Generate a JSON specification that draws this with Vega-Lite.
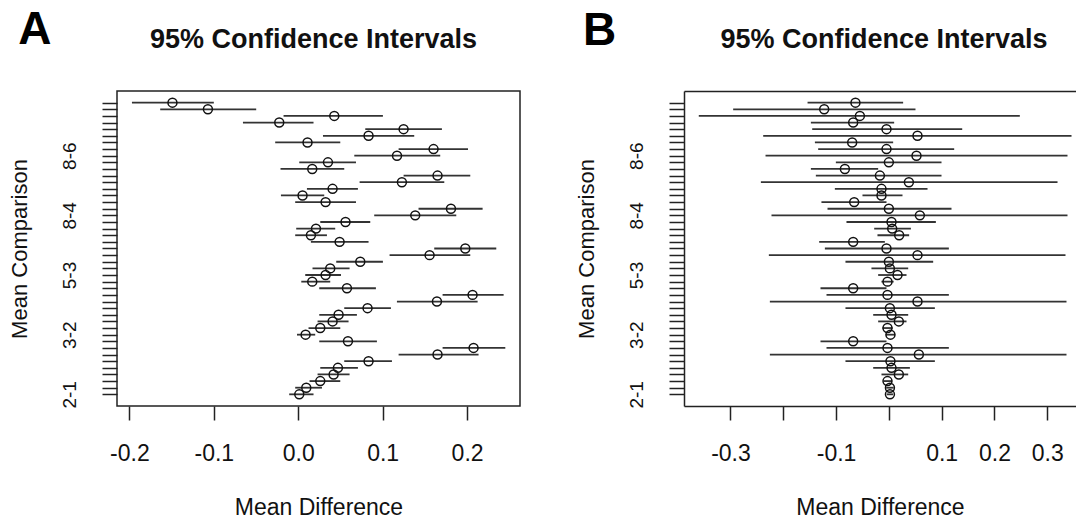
{
  "$schema": "https://vega.github.io/schema/vega-lite/v6.json",
  "padding": {"left": 7, "top": 7, "right": 0, "bottom": 0},
  "background": "white",
  "datasets": {
    "a": [
      {"k": 1, "cmp": "2-1", "lwr": -0.0107, "mid": 0.0012, "upr": 0.0181},
      {"k": 2, "cmp": "3-1", "lwr": -0.0036, "mid": 0.0095, "upr": 0.0281},
      {"k": 3, "cmp": "4-1", "lwr": 0.0134, "mid": 0.0261, "upr": 0.0498},
      {"k": 4, "cmp": "5-1", "lwr": 0.0229, "mid": 0.0419, "upr": 0.0608},
      {"k": 5, "cmp": "6-1", "lwr": 0.0261, "mid": 0.047, "upr": 0.0707},
      {"k": 6, "cmp": "7-1", "lwr": 0.0545, "mid": 0.0833, "upr": 0.111},
      {"k": 7, "cmp": "8-1", "lwr": 0.1189, "mid": 0.165, "upr": 0.2136},
      {"k": 8, "cmp": "9-1", "lwr": 0.171, "mid": 0.2077, "upr": 0.2453},
      {"k": 9, "cmp": "10-1", "lwr": 0.0249, "mid": 0.0589, "upr": 0.0932},
      {"k": 10, "cmp": "3-2", "lwr": -0.0015, "mid": 0.0087, "upr": 0.0201},
      {"k": 11, "cmp": "4-2", "lwr": 0.0122, "mid": 0.0261, "upr": 0.0498},
      {"k": 12, "cmp": "5-2", "lwr": 0.0229, "mid": 0.0407, "upr": 0.0596},
      {"k": 13, "cmp": "6-2", "lwr": 0.0249, "mid": 0.0478, "upr": 0.0695},
      {"k": 14, "cmp": "7-2", "lwr": 0.0545, "mid": 0.0821, "upr": 0.1098},
      {"k": 15, "cmp": "8-2", "lwr": 0.1169, "mid": 0.1643, "upr": 0.2125},
      {"k": 16, "cmp": "9-2", "lwr": 0.171, "mid": 0.2065, "upr": 0.2433},
      {"k": 17, "cmp": "10-2", "lwr": 0.0249, "mid": 0.0577, "upr": 0.092},
      {"k": 18, "cmp": "4-3", "lwr": 0.0036, "mid": 0.0166, "upr": 0.0379},
      {"k": 19, "cmp": "5-3", "lwr": 0.0083, "mid": 0.0324, "upr": 0.0506},
      {"k": 20, "cmp": "6-3", "lwr": 0.0169, "mid": 0.0379, "upr": 0.0608},
      {"k": 21, "cmp": "7-3", "lwr": 0.045, "mid": 0.0735, "upr": 0.1003},
      {"k": 22, "cmp": "8-3", "lwr": 0.1082, "mid": 0.1556, "upr": 0.2038},
      {"k": 23, "cmp": "9-3", "lwr": 0.1611, "mid": 0.1979, "upr": 0.2346},
      {"k": 24, "cmp": "10-3", "lwr": 0.015, "mid": 0.049, "upr": 0.0833},
      {"k": 25, "cmp": "5-4", "lwr": -0.0036, "mid": 0.015, "upr": 0.034},
      {"k": 26, "cmp": "6-4", "lwr": -0.0024, "mid": 0.021, "upr": 0.0438},
      {"k": 27, "cmp": "7-4", "lwr": 0.0261, "mid": 0.056, "upr": 0.0853},
      {"k": 28, "cmp": "8-4", "lwr": 0.09, "mid": 0.1386, "upr": 0.1872},
      {"k": 29, "cmp": "9-4", "lwr": 0.1425, "mid": 0.1809, "upr": 0.2184},
      {"k": 30, "cmp": "10-4", "lwr": -0.0036, "mid": 0.0324, "upr": 0.0684},
      {"k": 31, "cmp": "6-5", "lwr": -0.0205, "mid": 0.0051, "upr": 0.0308},
      {"k": 32, "cmp": "7-5", "lwr": 0.0103, "mid": 0.0407, "upr": 0.0707},
      {"k": 33, "cmp": "8-5", "lwr": 0.0727, "mid": 0.1228, "upr": 0.173},
      {"k": 34, "cmp": "9-5", "lwr": 0.1248, "mid": 0.165, "upr": 0.2038},
      {"k": 35, "cmp": "10-5", "lwr": -0.021, "mid": 0.0166, "upr": 0.0545},
      {"k": 36, "cmp": "7-6", "lwr": 0.0012, "mid": 0.0352, "upr": 0.0684},
      {"k": 37, "cmp": "8-6", "lwr": 0.0664, "mid": 0.117, "upr": 0.1682},
      {"k": 38, "cmp": "9-6", "lwr": 0.1189, "mid": 0.1603, "upr": 0.2011},
      {"k": 39, "cmp": "10-6", "lwr": -0.0273, "mid": 0.011, "upr": 0.0498},
      {"k": 40, "cmp": "8-7", "lwr": 0.0293, "mid": 0.0833, "upr": 0.1374},
      {"k": 41, "cmp": "9-7", "lwr": 0.0794, "mid": 0.1248, "upr": 0.1702},
      {"k": 42, "cmp": "10-7", "lwr": -0.0655, "mid": -0.0225, "upr": 0.0181},
      {"k": 43, "cmp": "9-8", "lwr": -0.0174, "mid": 0.0427, "upr": 0.1003},
      {"k": 44, "cmp": "10-8", "lwr": -0.1635, "mid": -0.107, "upr": -0.0498},
      {"k": 45, "cmp": "10-9", "lwr": -0.197, "mid": -0.149, "upr": -0.1}
    ],
    "b": [
      {"k": 1, "cmp": "2-1", "lwr": -0.004, "mid": 0.002, "upr": 0.008},
      {"k": 2, "cmp": "3-1", "lwr": -0.005, "mid": 0.002, "upr": 0.009},
      {"k": 3, "cmp": "4-1", "lwr": -0.01, "mid": -0.0026, "upr": 0.006},
      {"k": 4, "cmp": "5-1", "lwr": -0.014, "mid": 0.0189, "upr": 0.0366},
      {"k": 5, "cmp": "6-1", "lwr": -0.0297, "mid": 0.005, "upr": 0.0398},
      {"k": 6, "cmp": "7-1", "lwr": -0.0822, "mid": 0.003, "upr": 0.0871},
      {"k": 7, "cmp": "8-1", "lwr": -0.2254, "mid": 0.0568, "upr": 0.3364},
      {"k": 8, "cmp": "9-1", "lwr": -0.1181, "mid": -0.0026, "upr": 0.1136},
      {"k": 9, "cmp": "10-1", "lwr": -0.1295, "mid": -0.0676, "upr": -0.0045},
      {"k": 10, "cmp": "3-2", "lwr": -0.006, "mid": 0.003, "upr": 0.012},
      {"k": 11, "cmp": "4-2", "lwr": -0.012, "mid": -0.0026, "upr": 0.007},
      {"k": 12, "cmp": "5-2", "lwr": -0.0203, "mid": 0.0189, "upr": 0.0334},
      {"k": 13, "cmp": "6-2", "lwr": -0.0297, "mid": 0.005, "upr": 0.0366},
      {"k": 14, "cmp": "7-2", "lwr": -0.0822, "mid": 0.0019, "upr": 0.0871},
      {"k": 15, "cmp": "8-2", "lwr": -0.2254, "mid": 0.0542, "upr": 0.3364},
      {"k": 16, "cmp": "9-2", "lwr": -0.1181, "mid": -0.0026, "upr": 0.1136},
      {"k": 17, "cmp": "10-2", "lwr": -0.1295, "mid": -0.0676, "upr": -0.0045},
      {"k": 18, "cmp": "4-3", "lwr": -0.014, "mid": -0.0026, "upr": 0.009},
      {"k": 19, "cmp": "5-3", "lwr": -0.0203, "mid": 0.0164, "upr": 0.0334},
      {"k": 20, "cmp": "6-3", "lwr": -0.033, "mid": 0.0019, "upr": 0.0366},
      {"k": 21, "cmp": "7-3", "lwr": -0.0822, "mid": 0.0, "upr": 0.0839},
      {"k": 22, "cmp": "8-3", "lwr": -0.2273, "mid": 0.0542, "upr": 0.3345},
      {"k": 23, "cmp": "9-3", "lwr": -0.1212, "mid": -0.0045, "upr": 0.1136},
      {"k": 24, "cmp": "10-3", "lwr": -0.132, "mid": -0.0676, "upr": -0.0076},
      {"k": 25, "cmp": "5-4", "lwr": -0.0216, "mid": 0.0195, "upr": 0.0384},
      {"k": 26, "cmp": "6-4", "lwr": -0.0278, "mid": 0.0063, "upr": 0.0417},
      {"k": 27, "cmp": "7-4", "lwr": -0.0803, "mid": 0.005, "upr": 0.089},
      {"k": 28, "cmp": "8-4", "lwr": -0.2223, "mid": 0.0587, "upr": 0.3383},
      {"k": 29, "cmp": "9-4", "lwr": -0.1162, "mid": 0.0, "upr": 0.1186},
      {"k": 30, "cmp": "10-4", "lwr": -0.1277, "mid": -0.0657, "upr": -0.0045},
      {"k": 31, "cmp": "6-5", "lwr": -0.05, "mid": -0.014, "upr": 0.0258},
      {"k": 32, "cmp": "7-5", "lwr": -0.1023, "mid": -0.014, "upr": 0.0732},
      {"k": 33, "cmp": "8-5", "lwr": -0.2424, "mid": 0.0379, "upr": 0.3194},
      {"k": 34, "cmp": "9-5", "lwr": -0.1383, "mid": -0.017, "upr": 0.0997},
      {"k": 35, "cmp": "10-5", "lwr": -0.1477, "mid": -0.0833, "upr": -0.0203},
      {"k": 36, "cmp": "7-6", "lwr": -0.1004, "mid": 0.0, "upr": 0.0997},
      {"k": 37, "cmp": "8-6", "lwr": -0.2336, "mid": 0.0523, "upr": 0.3383},
      {"k": 38, "cmp": "9-6", "lwr": -0.1339, "mid": -0.0045, "upr": 0.1237},
      {"k": 39, "cmp": "10-6", "lwr": -0.1401, "mid": -0.0695, "upr": 0.0081},
      {"k": 40, "cmp": "8-7", "lwr": -0.238, "mid": 0.0542, "upr": 0.3459},
      {"k": 41, "cmp": "9-7", "lwr": -0.1452, "mid": -0.0045, "upr": 0.1389},
      {"k": 42, "cmp": "10-7", "lwr": -0.1477, "mid": -0.0676, "upr": 0.01},
      {"k": 43, "cmp": "9-8", "lwr": -0.36, "mid": -0.0549, "upr": 0.248},
      {"k": 44, "cmp": "10-8", "lwr": -0.2949, "mid": -0.1225, "upr": 0.0504},
      {"k": 45, "cmp": "10-9", "lwr": -0.154, "mid": -0.0633, "upr": 0.027}
    ]
  },
  "config": {
    "font": "Liberation Sans",
    "view": {"stroke": null},
    "axis": {
      "grid": false,
      "domainColor": "#222",
      "domainWidth": 1.5,
      "tickColor": "#222",
      "tickWidth": 1.5,
      "labelColor": "#111",
      "titleColor": "#111",
      "labelFont": "Liberation Sans",
      "titleFont": "Liberation Sans",
      "titleFontWeight": "normal",
      "labelOverlap": false,
      "labelBound": false,
      "labelFlush": false
    }
  },
  "spacing": 53,
  "hconcat": [
    {
      "title": {"text": "A", "fontSize": 46, "fontWeight": "bold", "anchor": "start", "frame": "bounds", "baseline": "alphabetic", "offset": 0, "dy": 65, "dx": 11, "color": "#000"},
      "hconcat": [
        {
          "width": 403,
          "height": 315,
          "title": {"text": "95% Confidence Intervals", "fontSize": 27, "fontWeight": "bold", "baseline": "alphabetic", "offset": 16, "anchor": "middle", "dx": -5, "color": "#111"},
          "view": {"stroke": "#222", "strokeWidth": 1.5},
          "data": {"name": "a"},
          "layer": [
            {
              "mark": {"type": "rule", "color": "#333", "strokeWidth": 1.8},
              "encoding": {
                "y": {
                  "field": "k", "type": "quantitative",
                  "scale": {"domain": [-0.76, 46.76], "nice": false, "zero": false},
                  "axis": {
                    "values": [1,2,3,4,5,6,7,8,9,10,11,12,13,14,15,16,17,18,19,20,21,22,23,24,25,26,27,28,29,30,31,32,33,34,35,36,37,38,39,40,41,42,43,44,45],
                    "tickCount": 100,
                    "labelExpr": "datum.value == 1 ? '2-1' : datum.value == 10 ? '3-2' : datum.value == 19 ? '5-3' : datum.value == 28 ? '8-4' : datum.value == 37 ? '8-6' : ''",
                    "labelAngle": -90, "labelAlign": "center", "labelBaseline": "bottom",
                    "labelFontSize": 19, "labelPadding": 23, "tickSize": 15, "domain": false,
                    "title": "Mean Comparison", "titleFontSize": 22, "titlePadding": 29
                  }
                },
                "x": {
                  "field": "lwr", "type": "quantitative",
                  "scale": {"domain": [-0.2147, 0.2627], "nice": false, "zero": false},
                  "axis": {
                    "values": [-0.2, -0.1, 0, 0.1, 0.2],
                    "labelExpr": "datum.value == 0 ? '0.0' : '' + datum.value",
                    "labelFontSize": 23, "labelPadding": 22, "tickSize": 14, "domain": false,
                    "title": "Mean Difference", "titleFontSize": 23, "titlePadding": 31
                  }
                },
                "x2": {"field": "upr"}
              }
            },
            {
              "mark": {"type": "point", "shape": "circle", "filled": false, "color": "#111", "strokeWidth": 1.5, "size": 80, "opacity": 1},
              "encoding": {
                "x": {"field": "mid", "type": "quantitative"},
                "y": {"field": "k", "type": "quantitative"}
              }
            }
          ]
        }
      ]
    },
    {
      "title": {"text": "B", "fontSize": 46, "fontWeight": "bold", "anchor": "start", "frame": "bounds", "baseline": "alphabetic", "offset": 0, "dy": 65, "dx": 8, "color": "#000"},
      "hconcat": [
        {
          "width": 392,
          "height": 315,
          "title": {"text": "95% Confidence Intervals", "fontSize": 27, "fontWeight": "bold", "baseline": "alphabetic", "offset": 16, "anchor": "middle", "dx": 4, "color": "#111"},
          "data": {"name": "b"},
          "resolve": {"axis": {"x": "independent"}},
          "layer": [
            {
              "mark": {"type": "rule", "color": "#333", "strokeWidth": 1.8},
              "encoding": {
                "y": {
                  "field": "k", "type": "quantitative",
                  "scale": {"domain": [-0.76, 46.76], "nice": false, "zero": false},
                  "axis": {
                    "values": [1,2,3,4,5,6,7,8,9,10,11,12,13,14,15,16,17,18,19,20,21,22,23,24,25,26,27,28,29,30,31,32,33,34,35,36,37,38,39,40,41,42,43,44,45],
                    "tickCount": 100,
                    "labelExpr": "datum.value == 1 ? '2-1' : datum.value == 10 ? '3-2' : datum.value == 19 ? '5-3' : datum.value == 28 ? '8-4' : datum.value == 37 ? '8-6' : ''",
                    "labelAngle": -90, "labelAlign": "center", "labelBaseline": "bottom",
                    "labelFontSize": 19, "labelPadding": 23, "tickSize": 15, "domain": true,
                    "title": "Mean Comparison", "titleFontSize": 22, "titlePadding": 29
                  }
                },
                "x": {
                  "field": "lwr", "type": "quantitative",
                  "scale": {"domain": [-0.388, 0.3544], "nice": false, "zero": false},
                  "axis": {
                    "values": [-0.3, -0.2, -0.1, 0, 0.1, 0.2, 0.3],
                    "labelExpr": "datum.value == 0 || datum.value == -0.2 ? '' : '' + datum.value",
                    "labelFontSize": 23, "labelPadding": 22, "tickSize": 14, "domain": true,
                    "title": "Mean Difference", "titleFontSize": 23, "titlePadding": 31
                  }
                },
                "x2": {"field": "upr"}
              }
            },
            {
              "mark": {"type": "point", "shape": "circle", "filled": false, "color": "#111", "strokeWidth": 1.5, "size": 80, "opacity": 1},
              "encoding": {
                "x": {"field": "mid", "type": "quantitative", "axis": {"orient": "top", "title": null, "labels": false, "ticks": false, "domain": true}},
                "y": {"field": "k", "type": "quantitative"}
              }
            }
          ]
        }
      ]
    }
  ]
}
